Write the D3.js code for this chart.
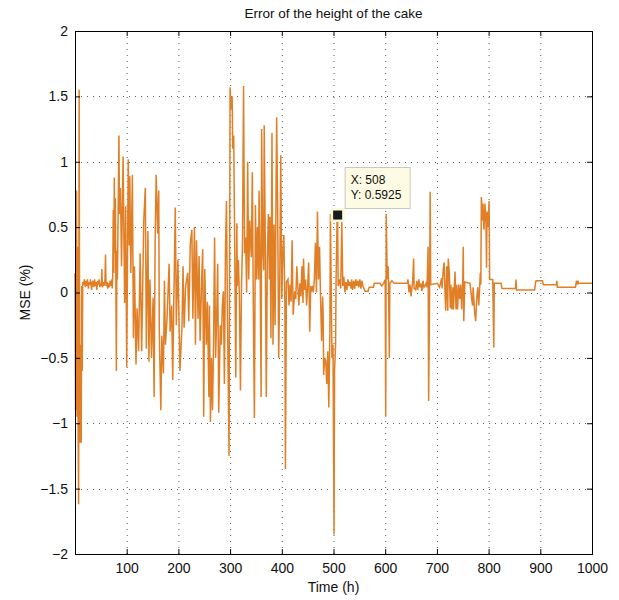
<!DOCTYPE html>
<html>
<head>
<meta charset="utf-8">
<script src="https://cdn.jsdelivr.net/npm/d3@7"></script>
<style>
  body { margin: 0; background: #fff; }
  svg { display: block; }
</style>
</head>
<body>
<div id="container"></div>
<script>
/* données : [heure, erreur] */
const series = [
  [0,0.15],[1,-0.9],[2,-0.25],[3,0.78],[4,-0.95],[5,0.35],[6,-1.05],[7,-1.62],[8,1.55],[9,-0.5],
  [10,-1.15],[11,-0.4],[12,-1.15],[13,0.05],[14,-0.6],[15,0.08],[17,0.06],[18,0.1],[20,0.04],[21,0.09],
  [23,0.05],[24,0.1],[26,0.03],[27,0.08],[29,0.06],[30,0.1],[32,0.02],[33,0.07],[35,0.09],[36,0.04],
  [38,0.1],[39,0.05],[41,0.08],[42,0.02],[44,0.09],[45,0.06],[47,0.1],[48,0.04],[50,0.07],[51,0.05],
  [52,0.18],[53,0.04],[55,0.08],[56,0.05],[58,0.1],[59,0.29],[60,0.05],[62,0.08],[63,0.03],[65,0.07],
  [66,0.04],[68,0.09],[69,0.05],[71,0.1],[72,0.03],[73,0.12],[74,0.63],[75,0.15],[76,0.88],[77,0.3],
  [78,0.72],[79,0.1],[80,-0.6],[81,0.32],[82,0.1],[83,0.45],[85,1.2],[86,0.6],[88,0.8],[90,0.2],
  [93,1.04],[96,-0.08],[98,0.66],[100,-0.57],[103,1.02],[105,0.36],[106,0.89],[108,0.15],[111,0.9],[113,-0.35],
  [115,0.2],[118,-0.55],[120,-0.12],[123,-0.45],[126,0.3],[129,-0.45],[131,0.06],[133,0.55],[136,0.8],[138,-0.43],
  [141,0.47],[143,-0.53],[145,0.1],[148,-0.5],[151,-0.04],[153,-0.8],[155,0.39],[157,0.9],[160,0.45],[162,0.78],
  [163,-0.28],[166,-0.9],[168,-0.33],[171,-0.62],[173,0.09],[175,-0.4],[178,-0.2],[182,0.22],[184,-0.3],[187,-0.1],
  [189,-0.67],[191,-0.1],[194,0.65],[196,-0.25],[199,0.25],[203,-0.6],[207,-0.25],[209,0.2],[211,-0.27],[214,0.05],
  [218,0.15],[220,-0.22],[223,0.37],[226,0.48],[228,-0.2],[231,0.5],[233,-0.4],[235,0.4],[238,-0.2],[240,0.28],
  [242,-0.37],[245,0.1],[247,0.33],[249,-0.95],[251,0.18],[254,-0.4],[256,-0.07],[259,-0.8],[260,-0.1],[262,-0.99],
  [264,-0.5],[266,-0.9],[268,-0.4],[270,0.42],[272,-0.5],[274,-0.2],[276,0.22],[278,-0.92],[281,-0.25],[283,-0.4],
  [285,-0.1],[287,0.01],[289,-0.7],[291,0.3],[293,0.7],[295,-0.2],[298,-1.25],[299,0.12],[300,1.57],[302,1.4],
  [304,1.5],[305,1.1],[307,1.2],[309,0.3],[311,-0.65],[313,0.53],[314,0.05],[316,0.25],[318,-0.04],[320,-0.75],
  [322,0.03],[324,0.38],[326,1.58],[328,0.3],[330,0.42],[332,0.0],[334,1.0],[336,0.1],[338,0.55],[341,0.27],
  [343,0.92],[345,-0.15],[347,-0.96],[349,0.67],[351,0.1],[353,0.5],[355,0.1],[356,0.78],[358,0.25],[360,-0.8],
  [361,1.25],[363,0.33],[365,0.17],[366,1.28],[368,0.4],[370,-0.8],[372,0.25],[374,0.6],[376,0.1],[377,0.58],
  [379,-0.35],[381,1.22],[383,-0.4],[385,0.52],[387,-0.25],[389,0.82],[390,1.34],[392,0.62],[394,-0.5],[396,0.05],
  [397,0.55],[398,1.05],[400,-0.05],[402,0.3],[404,0.44],[406,-0.1],[407,-1.35],[409,0.08],[412,0.1],[414,-0.1],
  [416,0.06],[418,-0.07],[420,0.4],[422,-0.17],[424,-0.05],[425,0.01],[427,-0.05],[429,0.2],[431,0.05],[433,-0.1],
  [435,0.07],[437,-0.03],[439,0.2],[441,-0.08],[442,0.26],[444,0.02],[446,0.1],[448,-0.1],[450,0.05],[452,0.23],
  [454,-0.3],[456,0.05],[458,0.02],[460,0.05],[461,0.0],[463,0.1],[465,0.38],[467,0.0],[469,0.62],[471,0.1],
  [473,0.35],[475,-0.05],[477,-0.37],[479,-0.03],[480,-0.18],[481,-0.63],[483,-0.5],[485,-0.52],[487,-0.7],[489,-0.45],
  [491,-0.88],[493,-0.3],[494,0.6],[496,-0.1],[497,-0.5],[499,-0.4],[501,-1.85],[502,-0.6],[504,-0.4],[505,0.1],
  [507,0.57],[508,0.5925],[509,0.05],[512,0.1],[514,0.03],[516,0.55],[518,0.05],[520,0.12],[522,0.0],[524,0.08],
  [526,0.02],[528,0.1],[530,0.05],[532,0.08],[534,0.03],[535,0.1],[537,0.02],[539,0.09],[541,0.03],[543,0.1],
  [545,0.05],[547,0.09],[549,0.04],[551,0.1],[553,0.03],[555,0.09],[557,0.05],[561,0.01],[567,0.01],[569,0.04],
  [577,0.04],[579,0.07],[590,0.07],[593,0.05],[597,0.07],[600,0.1],[601,-0.95],[602,0.6],[604,0.1],[606,0.2],
  [608,-0.5],[609,0.07],[613,0.09],[617,0.07],[643,0.07],[644,0.1],[646,0.0],[648,0.06],[650,-0.03],[653,0.08],
  [655,0.26],[656,0.03],[659,0.02],[661,0.09],[663,0.02],[665,0.1],[667,0.04],[669,0.07],[671,0.01],[673,0.09],
  [675,0.04],[677,0.05],[679,0.07],[681,0.04],[683,0.35],[684,-0.83],[686,0.05],[687,0.77],[688,0.06],[701,0.07],
  [705,0.04],[707,0.07],[709,0.11],[710,0.03],[712,0.17],[714,0.23],[715,0.08],[717,-0.14],[719,0.2],[721,-0.14],
  [722,0.26],[724,0.15],[726,-0.12],[727,0.06],[729,-0.13],[731,0.04],[732,-0.13],[734,0.07],[735,0.16],[737,-0.13],
  [738,0.06],[740,-0.13],[742,0.06],[744,-0.05],[746,0.06],[748,-0.13],[750,0.1],[751,0.35],[752,-0.22],[754,0.08],
  [764,0.07],[767,-0.04],[769,-0.1],[770,0.04],[773,-0.15],[775,-0.22],[777,-0.05],[779,0.04],[781,-0.1],[784,0.15],
  [785,0.06],[786,0.73],[788,0.55],[789,0.68],[791,0.48],[793,0.68],[795,0.52],[796,0.19],[797,0.62],[799,0.5],
  [801,0.7],[802,0.1],[808,0.1],[810,-0.42],[811,0.07],[824,0.07],[826,0.03],[852,0.03],[853,0.1],[854,0.02],
  [889,0.02],[891,0.08],[892,0.09],[904,0.09],[906,0.06],[931,0.06],[932,0.09],[933,0.04],[968,0.04],[970,0.09],
  [972,0.06],[973,0.09],[974,0.07],[1000,0.07]
];

/* graduations */
const xTicks = [100, 200, 300, 400, 500, 600, 700, 800, 900, 1000];
const yTicks = [-2, -1.5, -1, -0.5, 0, 0.5, 1, 1.5, 2];

/* point marqué (datatip) */
const tipPoint = [508, 0.5925];
const tipLines = ["X: 508", "Y: 0.5925"];

const titleText = "Error of the height of the cake";
const xLabel = "Time (h)";
const yLabel = "MSE (%)";

const width = 619, height = 600;
const margin = {left: 75, right: 27, top: 31, bottom: 46};
const plotW = width - margin.left - margin.right,
      plotH = height - margin.top - margin.bottom;

const fontPolice = "'Liberation Sans', Arial, Helvetica, sans-serif";
const lineColor = "#e07f26";

const svg = d3.select("#container").append("svg")
  .attr("width", width)
  .attr("height", height);

const x = d3.scaleLinear().domain([0, 1000]).range([0, plotW]);
const y = d3.scaleLinear().domain([-2, 2]).range([plotH, 0]);

const g = svg.append("g")
  .attr("transform", "translate(" + margin.left + "," + margin.top + ")");

/* grille pointillée */
g.append("g").selectAll("line")
  .data(xTicks.filter(function(d){ return d < 1000; }))
  .enter().append("line")
    .attr("x1", function(d){ return x(d) + 0.5; })
    .attr("x2", function(d){ return x(d) + 0.5; })
    .attr("y1", 0)
    .attr("y2", plotH)
    .style("stroke", "#5a5a5a")
    .style("stroke-width", 1)
    .style("stroke-dasharray", "1,5");

g.append("g").selectAll("line")
  .data(yTicks.filter(function(d){ return d > -2 && d < 2; }))
  .enter().append("line")
    .attr("x1", 0)
    .attr("x2", plotW)
    .attr("y1", function(d){ return Math.round(y(d)) + 0.5; })
    .attr("y2", function(d){ return Math.round(y(d)) + 0.5; })
    .style("stroke", "#5a5a5a")
    .style("stroke-width", 1)
    .style("stroke-dasharray", "1,5");

/* courbe */
const line = d3.line()
  .x(function(d){ return x(d[0]); })
  .y(function(d){ return y(d[1]); });

g.append("path")
  .datum(series)
  .attr("d", line)
  .style("fill", "none")
  .style("stroke", lineColor)
  .style("stroke-width", 1.5)
  .style("stroke-linejoin", "miter");

/* axes, graduations vers l'intérieur sur les 4 côtés */
const tickLen = 5;
const xBottom = d3.axisBottom(x).tickValues(xTicks).tickSize(-tickLen).tickPadding(9)
  .tickFormat(d3.format("d"));
const xTop = d3.axisTop(x).tickValues(xTicks).tickSize(-tickLen).tickFormat("");
const yLeft = d3.axisLeft(y).tickValues(yTicks).tickSize(-tickLen).tickPadding(7)
  .tickFormat(function(d){ return String(d).replace("-", "\u2212"); });
const yRight = d3.axisRight(y).tickValues(yTicks).tickSize(-tickLen).tickFormat("");

function styleAxis(sel) {
  sel.selectAll("path").style("stroke", "#000").style("stroke-width", 1);
  sel.selectAll("line").style("stroke", "#000");
  sel.selectAll("text")
    .style("font-family", fontPolice)
    .style("font-size", "14px")
    .style("fill", "#111");
}

g.append("g").attr("transform", "translate(0," + plotH + ")").call(xBottom).call(styleAxis);
g.append("g").call(xTop).call(styleAxis);
g.append("g").call(yLeft).call(styleAxis);
g.append("g").attr("transform", "translate(" + plotW + ",0)").call(yRight).call(styleAxis);

/* datatip */
const tx = x(tipPoint[0]), ty = y(tipPoint[1]);
g.append("rect")
  .attr("x", tx - 7).attr("y", ty - 7)
  .attr("width", 14).attr("height", 14)
  .style("fill", "#fbf8d8");
g.append("rect")
  .attr("x", tx - 4.5).attr("y", ty - 4.5)
  .attr("width", 9).attr("height", 9)
  .style("fill", "#1a1a1a");

const box = g.append("g")
  .attr("transform", "translate(" + (tx + 7) + "," + (ty - 48) + ")");
box.append("rect")
  .attr("x", 0.5).attr("y", 0.5)
  .attr("width", 65).attr("height", 41)
  .style("fill", "#fdfbe3")
  .style("stroke", "#c9c9bb")
  .style("stroke-width", 1);
box.selectAll("text")
  .data(tipLines)
  .enter().append("text")
    .attr("x", 6)
    .attr("y", function(d, i){ return 17 + i * 15; })
    .style("font-family", fontPolice)
    .style("font-size", "12px")
    .style("fill", "#111")
    .text(function(d){ return d; });

/* titres */
svg.append("text")
  .attr("x", margin.left + plotW / 2)
  .attr("y", 18)
  .style("text-anchor", "middle")
  .style("font-family", fontPolice)
  .style("font-size", "13.5px")
  .style("fill", "#111")
  .text(titleText);

svg.append("text")
  .attr("x", margin.left + plotW / 2)
  .attr("y", 592)
  .style("text-anchor", "middle")
  .style("font-family", fontPolice)
  .style("font-size", "14px")
  .style("fill", "#111")
  .text(xLabel);

svg.append("text")
  .attr("transform", "translate(30," + (margin.top + plotH / 2) + ") rotate(-90)")
  .style("text-anchor", "middle")
  .style("font-family", fontPolice)
  .style("font-size", "14px")
  .style("fill", "#111")
  .text(yLabel);
</script>
</body>
</html>
